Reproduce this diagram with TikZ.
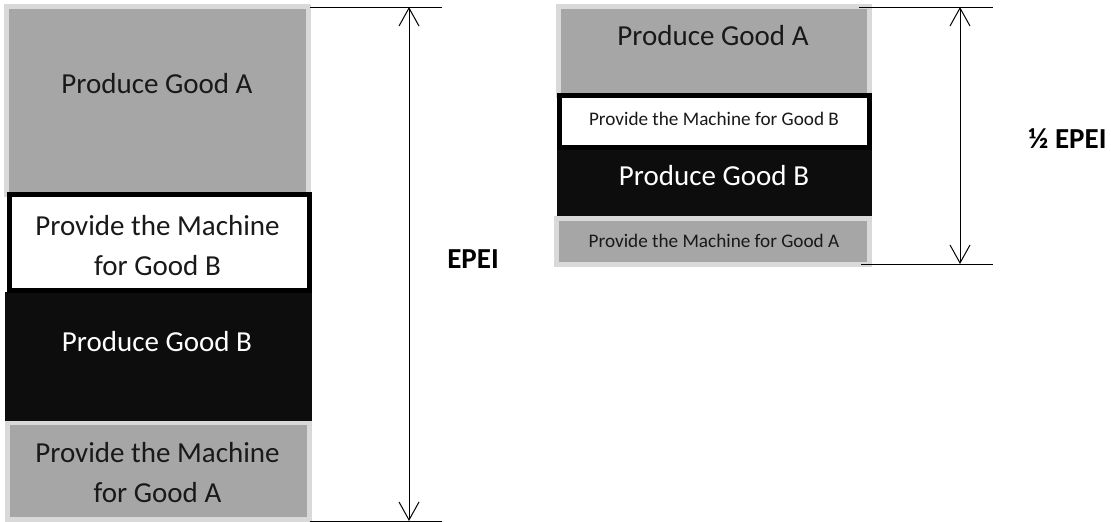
\documentclass[tikz,border=0pt]{standalone}
\usepackage{fontspec}
\setmainfont{Carlito}
\usetikzlibrary{arrows.meta}
\definecolor{boxgray}{HTML}{A6A6A6}
\definecolor{rimgray}{HTML}{D9D9D9}
\definecolor{nearblack}{HTML}{0D0D0D}
\tikzset{
  slab/.style={rectangle, inner sep=0pt, outer sep=0pt},
  graybox/.style={slab, fill=boxgray, draw=rimgray, line width=5pt},
  whitebox/.style={slab, fill=white, draw=black, line width=5pt},
  darkbox/.style={slab, fill=nearblack},
  bigtext/.style={anchor=base, inner sep=0pt, text=black!90, font=\fontsize{29}{40}\selectfont},
  smalltext/.style={anchor=base, inner sep=0pt, text=black!90, font=\fontsize{19.2}{24}\selectfont},
  tag/.style={anchor=base, inner sep=0pt, font=\bfseries\fontsize{29}{34}\selectfont},
  guide/.style={line width=1pt, draw=black},
  span/.style={line width=1pt, {Straight Barb[length=18pt,width=20pt]}-{Straight Barb[length=18pt,width=20pt]}},
}
\begin{document}
\begin{tikzpicture}[x=1pt, y=-1pt]
\useasboundingbox (0,0) rectangle (1111,522);

% ---- full cycle (left) ----
\node[graybox, minimum width=302pt, minimum height=187.5pt] (la) at (157.5,100.25) {};
\node[graybox, minimum width=302pt, minimum height=97pt] (lpa) at (158.5,471) {};
\node[darkbox, minimum width=307pt, minimum height=129pt] (lb) at (158.5,356.5) {};
\node[whitebox, minimum width=300pt, minimum height=96pt] (lpb) at (159.5,242.5) {};

\node[bigtext] (la-t) at (157,93) {Produce Good A};
\node[bigtext] (lpb-t1) at (157.5,235) {Provide the Machine};
\node[bigtext] (lpb-t2) at (157.5,275) {for Good B};
\node[bigtext, text=white] (lb-t) at (157,351) {Produce Good B};
\node[bigtext] (lpa-t1) at (157.5,462) {Provide the Machine};
\node[bigtext] (lpa-t2) at (157.5,502) {for Good A};

% ---- half cycle (right) ----
\node[graybox, minimum width=311pt, minimum height=88.5pt] (ra) at (714,50.75) {};
\node[graybox, minimum width=313pt, minimum height=46pt] (rpa) at (713,241.5) {};
\node[darkbox, minimum width=315pt, minimum height=70pt] (rb) at (714.5,181) {};
\node[whitebox, minimum width=310pt, minimum height=52.5pt] (rpb) at (714.5,121.25) {};

\node[bigtext] (ra-t) at (713,45) {Produce Good A};
\node[smalltext] (rpb-t) at (714,125) {Provide the Machine for Good B};
\node[bigtext, text=white] (rb-t) at (714,185) {Produce Good B};
\node[smalltext] (rpa-t) at (714,247) {Provide the Machine for Good A};

% ---- dimension lines ----
\coordinate (lt0) at (310,7);   \coordinate (lt1) at (442,7);
\coordinate (lb0) at (310,521); \coordinate (lb1) at (442,521);
\coordinate (lup) at (409,7);   \coordinate (ldn) at (409,521);
\draw[guide] (lt0) -- (lt1);
\draw[guide] (lb0) -- (lb1);
\draw[span] (lup) -- (ldn);

\coordinate (rt0) at (859,7);   \coordinate (rt1) at (993,7);
\coordinate (rb0) at (861,264); \coordinate (rb1) at (993,264);
\coordinate (rup) at (960,7);   \coordinate (rdn) at (960,264);
\draw[guide] (rt0) -- (rt1);
\draw[guide] (rb0) -- (rb1);
\draw[span] (rup) -- (rdn);

\node[tag] (epei) at (473,268) {EPEI};
\node[tag] (half) at (1067.5,148) {½ EPEI};
\end{tikzpicture}
\end{document}
